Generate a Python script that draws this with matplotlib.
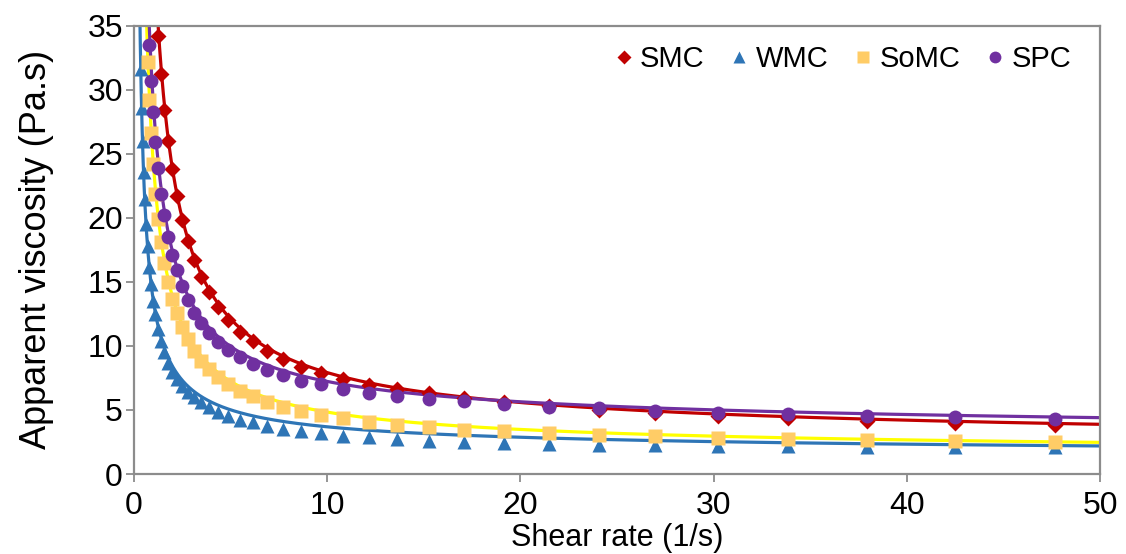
import numpy as np
import matplotlib
matplotlib.use("Agg")
import matplotlib.pyplot as plt

plt.rcParams['font.family'] = ['Liberation Sans', 'DejaVu Sans']

# shear rates of the rheometer sweep (1/s)
shear_rate = [0.35, 0.40, 0.45, 0.50, 0.56, 0.63, 0.71, 0.79, 0.89, 0.99,
              1.11, 1.25, 1.40, 1.56, 1.75, 1.96, 2.20, 2.47, 2.77, 3.10,
              3.47, 3.89, 4.36, 4.89, 5.48, 6.14, 6.88, 7.70, 8.63, 9.68,
              10.84, 12.15, 13.62, 15.26, 17.10, 19.16, 21.47, 24.06, 26.96, 30.21,
              33.86, 37.94, 42.51, 47.64]

# apparent viscosity (Pa.s); each series covers the last len(values) shear rates
smc = [34.2, 31.2, 28.4, 26.0, 23.8, 21.7, 19.8, 18.2, 16.7, 15.4,
       14.2, 13.05, 12.05, 11.1, 10.4, 9.63, 8.98, 8.38, 7.86, 7.42,
       6.98, 6.64, 6.3, 5.94, 5.6, 5.3, 5.02, 4.76, 4.55, 4.37,
       4.16, 4.01, 3.85]
wmc = [31.6, 28.6, 26.0, 23.6, 21.5, 19.5, 17.8, 16.2, 14.8, 13.5,
       12.5, 11.3, 10.4, 9.5, 8.7, 8.0, 7.4, 6.9, 6.4, 6.0,
       5.6, 5.2, 4.87, 4.55, 4.24, 4.03, 3.77, 3.5, 3.33, 3.17,
       3.0, 2.86, 2.73, 2.6, 2.47, 2.39, 2.34, 2.29, 2.24, 2.2,
       2.16, 2.13, 2.1, 2.07]
somc = [32.2, 29.2, 26.6, 24.2, 21.9, 19.9, 18.1, 16.5, 15.0, 13.65,
        12.6, 11.45, 10.55, 9.63, 8.85, 8.2, 7.55, 7.03, 6.5, 6.06,
        5.6, 5.26, 4.9, 4.63, 4.35, 4.09, 3.85, 3.7, 3.46, 3.33,
        3.17, 3.02, 2.94, 2.78, 2.7, 2.63, 2.55, 2.47]
spc = [33.5, 30.7, 28.25, 25.9, 23.9, 21.9, 20.2, 18.5, 17.1, 15.9,
       14.7, 13.6, 12.6, 11.8, 11.0, 10.3, 9.7, 9.1, 8.6, 8.1,
       7.7, 7.3, 7.0, 6.6, 6.33, 6.1, 5.86, 5.67, 5.47, 5.26,
       5.13, 4.95, 4.8, 4.66, 4.53, 4.42, 4.29]

# Herschel-Bulkley fits: eta = tau0/g + K*g**(n-1)
labels = ["SMC", "WMC", "SoMC", "SPC"]
tau0 = [35.4, 9.15, 19.7, 21.8]
k_cons = [6.94, 4.39, 4.54, 7.13]
n_idx = [0.80, 0.80, 0.80, 0.85]

series = [smc, wmc, somc, spc]
marker_col = ["#C00000", "#2E75B6", "#FFCC66", "#7030A0"]
line_col = ["#C00000", "#2E75B6", "#FFFF00", "#7030A0"]
markers = ["D", "^", "s", "o"]
msizes = [8, 10.5, 10, 10]

fig = plt.figure(figsize=(11.26, 5.54), dpi=100)
ax = fig.add_axes([0.119, 0.1444, 0.858, 0.809])

g = np.linspace(0.2, 50, 2000)
for i in range(4):
    fit = tau0[i] / g + k_cons[i] * g ** (n_idx[i] - 1)
    ax.plot(g, fit, color=line_col[i], lw=2.3, zorder=2)

for i in range(4):
    vals = series[i]
    x = shear_rate[-len(vals):]
    ax.plot(x, vals, linestyle="none", marker=markers[i], ms=msizes[i],
            color=marker_col[i], mec="none", label=labels[i], zorder=3 + i)

ax.set_xlim(0, 50)
ax.set_ylim(0, 35)
ax.set_xticks(range(0, 51, 10))
ax.set_yticks(range(0, 36, 5))

grey = "#8C8C8C"
for sp in ax.spines.values():
    sp.set_color(grey)
    sp.set_linewidth(1.6)
ax.tick_params(direction="out", length=6, width=1.3, color=grey,
               labelsize=23, pad=2)
ax.tick_params(axis="x", pad=6)

ax.set_xlabel("Shear rate (1/s)", fontsize=22, labelpad=2)
ax.set_ylabel("Apparent viscosity (Pa.s)", fontsize=26, labelpad=24)

ax.legend(loc="upper right", bbox_to_anchor=(0.997, 1.015), ncol=4,
          frameon=False, fontsize=21, handlelength=0.6, handletextpad=0.25,
          columnspacing=0.9, markerscale=0.85)

fig.savefig("out.png", dpi=100)
